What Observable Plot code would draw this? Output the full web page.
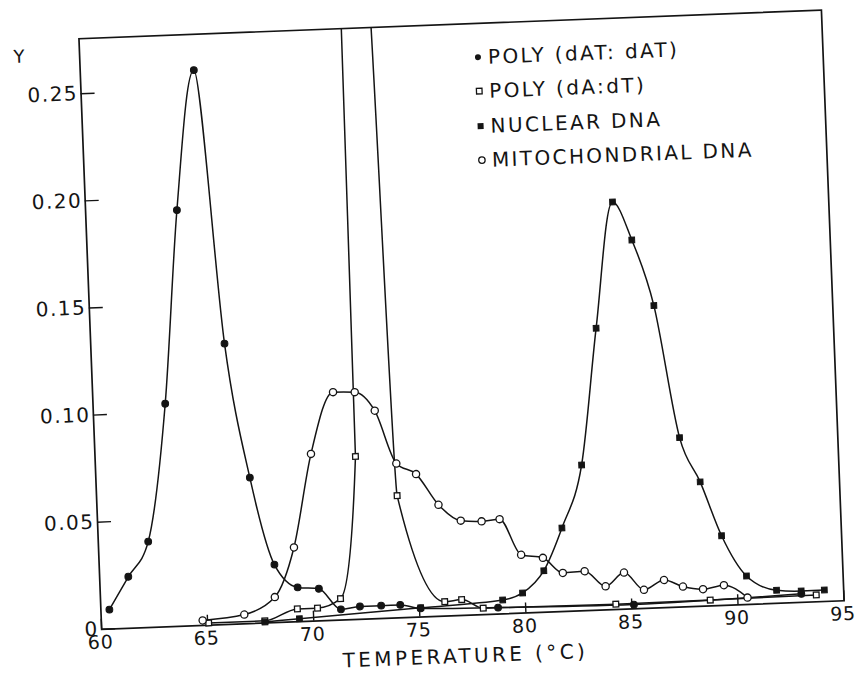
<!DOCTYPE html>
<html><head><meta charset="utf-8">
<script src="https://cdn.jsdelivr.net/npm/d3@7"></script>
<script src="https://cdn.jsdelivr.net/npm/@observablehq/plot@0.6"></script>
<style>
body{margin:0;background:#fff;overflow:hidden;}
#wrap{position:relative;width:856px;height:673px;font-family:"DejaVu Sans",sans-serif;color:#141414;
  transform-origin:461px 319px;transform:rotate(-2.2deg);}
#legend{position:absolute;left:482px;top:41px;font-size:20px;letter-spacing:2.4px;}
#legend .row{height:34.3px;display:flex;align-items:center;white-space:pre;}
#legend svg{margin-right:4px;}
</style></head><body><div id="wrap"><div id="legend"></div></div>
<script>
// ---- data ----
const xTicks = [60, 65, 70, 75, 80, 85, 90, 95];
const yTicks = [0, 0.05, 0.10, 0.15, 0.20, 0.25];
const seriesNames = ["POLY (dAT: dAT)", "POLY (dA:dT)", "NUCLEAR DNA", "MITOCHONDRIAL DNA"];

// POLY (dAT:dAT) – filled circles
const datT = [60.4, 61.35, 62.35, 63.4, 64.3, 65.35, 66.3, 67.25, 68.25, 69.3, 70.3, 71.3, 72.2, 73.2, 74.1, 75.05, 78.7, 85.1, 93.0];
const datY = [0.009, 0.024, 0.040, 0.104, 0.194, 0.259, 0.131, 0.068, 0.027, 0.016, 0.015, 0.005, 0.006, 0.006, 0.006, 0.004, 0.003, 0.002, 0.004];

// POLY (dA:dT) – open squares (peak runs off the top of the chart)
const dadtT = [65.05, 67.7, 69.25, 70.2, 71.3, 72.26, 72.38, 73.05, 73.72, 74.15, 76.2, 77.0, 78.0, 84.25, 88.7, 93.7];
const dadtY = [0.001, 0.001, 0.006, 0.006, 0.010, 0.076, 0.30, 0.42, 0.30, 0.057, 0.0067, 0.0074, 0.003, 0.0025, 0.0027, 0.0032];

// NUCLEAR DNA – filled squares
const nucT = [67.7, 69.33, 75.06, 78.93, 79.88, 80.92, 81.85, 82.89, 83.82, 84.82, 85.66, 86.58, 87.55, 88.44, 89.35, 90.45, 91.84, 93.0, 94.09];
const nucY = [0.0005, 0.0014, 0.0043, 0.0065, 0.0094, 0.0194, 0.039, 0.068, 0.1315, 0.190, 0.172, 0.141, 0.079, 0.058, 0.0325, 0.0133, 0.0061, 0.0053, 0.0054];

// MITOCHONDRIAL DNA – open circles
const mitoT = [64.77, 66.74, 68.21, 69.2, 70.17, 71.32, 72.34, 73.25, 74.17, 75.08, 76.08, 77.1, 78.08, 78.93, 79.88, 80.9, 81.81, 82.84, 83.8, 84.69, 85.6, 86.56, 87.44, 88.38, 89.37, 90.46];
const mitoY = [0.0023, 0.0043, 0.0119, 0.0347, 0.078, 0.1064, 0.106, 0.097, 0.072, 0.0667, 0.052, 0.0442, 0.0435, 0.0442, 0.0272, 0.0254, 0.018, 0.0184, 0.011, 0.0171, 0.0087, 0.0129, 0.0095, 0.0079, 0.0094, 0.0032];

// ---- build tables ----
const rows = (name, ts, vs) => ts.map((t, i) => ({series: name, t, v: vs[i]}));
const dat = rows(seriesNames[0], datT, datY);
const dadt = rows(seriesNames[1], dadtT, dadtY);
const nuc = rows(seriesNames[2], nucT, nucY);
const mito = rows(seriesNames[3], mitoT, mitoY);
const yMax = 0.2757;
const visible = d => d.v <= yMax;

const ink = "#141414";
const lineOpts = {x: "t", y: "v", curve: "monotone-x", stroke: ink, strokeWidth: 1.5, clip: true};

const chart = Plot.plot({
  width: 856, height: 673,
  marginLeft: 89.5, marginRight: 23.5, marginTop: 23.75, marginBottom: 58.25,
  x: {domain: [60, 95], ticks: xTicks},
  y: {domain: [0, yMax], ticks: yTicks},
  style: {fontFamily: "DejaVu Sans, sans-serif", fontSize: "20px", color: ink, background: "#fff", overflow: "visible"},
  marks: [
    Plot.frame({stroke: ink, strokeWidth: 1.7}),
    // tick labels
    Plot.axisX({ticks: xTicks, tickSize: 0, tickPadding: 6, dx: -1.5, label: null, fontSize: 19, tickFormat: d => String(d)}),
    Plot.axisY({ticks: yTicks, tickSize: 0, tickPadding: 3, label: null, fontSize: 20, tickFormat: d => d === 0 ? "0" : d.toFixed(2)}),
    // inward tick marks
    Plot.axisX({ticks: xTicks, tickSize: 10, dy: -10, label: null, tickFormat: () => "", strokeWidth: 1.4}),
    Plot.axisY({ticks: yTicks, tickSize: 14, dx: 14, label: null, tickFormat: () => "", strokeWidth: 1.4}),
    // axis titles
    Plot.text(["TEMPERATURE (°C)"], {frameAnchor: "bottom", dx: -9, dy: 41, fontSize: 20, lineAnchor: "middle", fill: ink}),
    Plot.text(["Y"], {frameAnchor: "top-left", dx: -66, dy: 16, fontSize: 18, lineAnchor: "middle", fill: ink}),
    // curves
    Plot.line(dat, lineOpts),
    Plot.line(dadt, lineOpts),
    Plot.line(nuc, lineOpts),
    Plot.line(mito, lineOpts),
    // markers
    Plot.dot(dat.filter(visible), {x: "t", y: "v", r: 3.4, fill: ink, stroke: ink, strokeWidth: 1}),
    Plot.dot(dadt.filter(visible), {x: "t", y: "v", r: 3.2, symbol: "square", fill: "white", stroke: ink, strokeWidth: 1.3}),
    Plot.dot(nuc, {x: "t", y: "v", r: 3.2, symbol: "square", fill: ink, stroke: ink, strokeWidth: 1}),
    Plot.dot(mito, {x: "t", y: "v", r: 3.6, fill: "white", stroke: ink, strokeWidth: 1.3})
  ]
});
document.getElementById("wrap").prepend(chart);

// wide lettering like the original
d3.select(chart).selectAll("text").filter(function(){return this.textContent === "TEMPERATURE (°C)";}).style("letter-spacing", "3.4px");
d3.select(chart).selectAll("[aria-label='y-axis tick label'] text").style("letter-spacing", "1.5px");
d3.select(chart).selectAll("[aria-label='x-axis tick label'] text").style("letter-spacing", "0.8px");

// ---- legend ----
const symbols = [
  '<circle cx="6" cy="6" r="3" fill="#141414"/>',
  '<rect x="3.2" y="3.2" width="5.6" height="5.6" fill="white" stroke="#141414" stroke-width="1.3"/>',
  '<rect x="3" y="3" width="6" height="6" fill="#141414"/>',
  '<circle cx="6" cy="6" r="3.2" fill="white" stroke="#141414" stroke-width="1.3"/>'
];
const legend = document.getElementById("legend");
seriesNames.forEach((name, i) => {
  const row = document.createElement("div");
  row.className = "row";
  row.innerHTML = `<svg width="12" height="12">${symbols[i]}</svg><span>${name}</span>`;
  legend.appendChild(row);
});
</script>
</body></html>
